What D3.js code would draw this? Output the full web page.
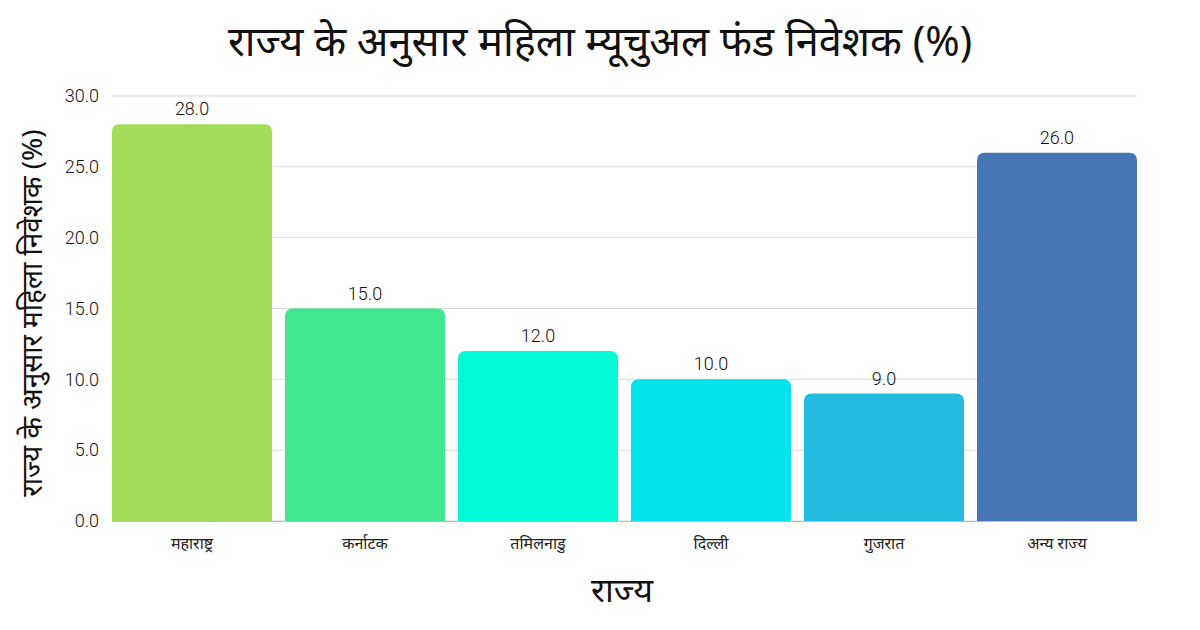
<!DOCTYPE html>
<html><head><meta charset="utf-8">
<script src="https://cdn.jsdelivr.net/npm/d3@7"></script>
<style>body{margin:0;background:#fff}svg{display:block}</style>
</head><body>
<svg id="c" width="1200" height="630"></svg>
<script>
const categories = ["महाराष्ट्र","कर्नाटक","तमिलनाडु","दिल्ली","गुजरात","अन्य राज्य"];
const values = [28.0,15.0,12.0,10.0,9.0,26.0];
const colors = ["#a1dd5a","#3fe78e","#00fbd6","#00e2ec","#23bbe0","#4575b4"];
const yTicks = [0,5,10,15,20,25,30];
const title = "राज्य के अनुसार महिला म्यूचुअल फंड निवेशक (%)";
const xTitle = "राज्य";
const yTitle = "राज्य के अनुसार महिला निवेशक (%)";

const svg = d3.select("#c");
const m = {l:112, r:1137, t:96, b:521};
const x = d3.scaleBand().domain(categories).range([m.l,m.r]).paddingInner(0.075).paddingOuter(0);
const y = d3.scaleLinear().domain([0,30]).range([m.b,m.t]);
const font = "Roboto, 'Noto Sans', sans-serif";

// grid
svg.append("g").selectAll("line").data(yTicks).join("line")
  .attr("x1",m.l).attr("x2",m.r).attr("y1",d=>y(d)).attr("y2",d=>y(d))
  .attr("stroke","#d9d9d9").attr("stroke-width",1);

// y tick labels
svg.append("g").selectAll("text").data(yTicks).join("text")
  .attr("x",99).attr("y",d=>y(d)).attr("dy","0.35em").attr("text-anchor","end")
  .attr("font-family",font).attr("font-weight",300).attr("font-size",18).attr("fill","#111")
  .text(d=>d.toFixed(1));

// bars with rounded top corners
const r = 8;
svg.append("g").selectAll("path").data(values).join("path")
  .attr("fill",(d,i)=>colors[i])
  .attr("d",(d,i)=>{
    const x0=x(categories[i]), w=x.bandwidth(), y0=y(d), yb=y(0);
    return `M${x0},${yb}V${y0+r}Q${x0},${y0} ${x0+r},${y0}H${x0+w-r}Q${x0+w},${y0} ${x0+w},${y0+r}V${yb}Z`;
  });

// baseline
svg.append("line").attr("x1",m.l).attr("x2",m.r).attr("y1",y(0)+0.5).attr("y2",y(0)+0.5)
  .attr("stroke","#bbb").attr("stroke-width",1);

// value labels
svg.append("g").selectAll("text").data(values).join("text")
  .attr("x",(d,i)=>x(categories[i])+x.bandwidth()/2).attr("y",d=>y(d)-9)
  .attr("text-anchor","middle").attr("font-family",font).attr("font-weight",300).attr("font-size",18).attr("fill","#111")
  .text(d=>d.toFixed(1));

// x tick labels
svg.append("g").selectAll("text").data(categories).join("text")
  .attr("x",d=>x(d)+x.bandwidth()/2).attr("y",549)
  .attr("text-anchor","middle").attr("font-family","'Noto Sans', sans-serif").attr("font-size",16).attr("fill","#222")
  .text(d=>d);

// titles
svg.append("text").attr("x",600).attr("y",56).attr("text-anchor","middle")
  .attr("font-family","'Noto Sans', sans-serif").attr("font-size",41.5).attr("fill","#111")
  .text(title);
svg.append("text").attr("x",622).attr("y",602).attr("text-anchor","middle")
  .attr("font-family","'Noto Sans', sans-serif").attr("font-size",34).attr("fill","#111")
  .text(xTitle);
svg.append("text").attr("transform","translate(42,313) rotate(-90)").attr("text-anchor","middle")
  .attr("font-family","'Noto Sans', sans-serif").attr("font-size",28).attr("fill","#111")
  .text(yTitle);
</script>
</body></html>
